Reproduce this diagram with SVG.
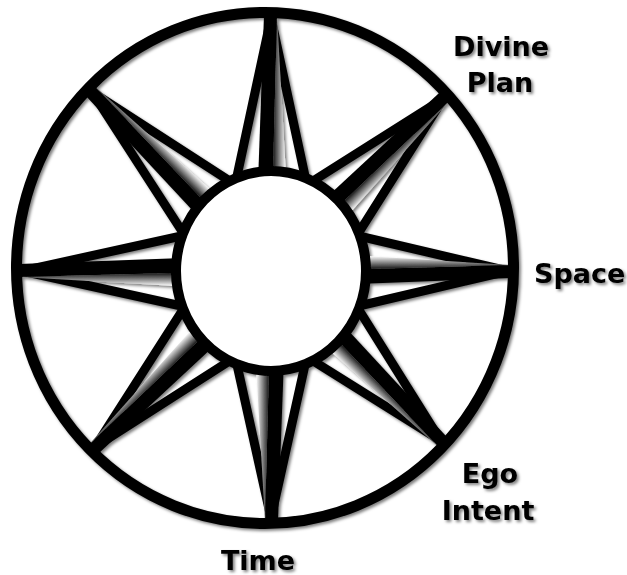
<svg xmlns="http://www.w3.org/2000/svg" width="627" height="575" viewBox="0 0 627 575">
<style>
.ln{stroke:#000;stroke-width:9;fill:none}
.bar{fill:#000}
.sh{fill:url(#fade)}
.ring{fill:none;stroke:#000;stroke-width:11}
.hub{fill:#fff;stroke:#000;stroke-width:10}
.lbl{font-family:"DejaVu Sans",Verdana,sans-serif;font-weight:bold;font-size:27px;fill:#000;text-anchor:middle}
</style>
<defs>
<filter id="ds" x="-5%" y="-5%" width="115%" height="115%">
<feDropShadow dx="2" dy="2" stdDeviation="1.5" flood-color="#000" flood-opacity="0.5"/>
</filter>
<linearGradient id="fade" gradientUnits="userSpaceOnUse" x1="1" y1="0" x2="15" y2="0">
<stop offset="0" stop-color="#000"/>
<stop offset="1" stop-color="#fff"/>
</linearGradient>
</defs>
<g filter="url(#ds)">
<g id="connectors">
<g id="spike-top" transform="translate(271 271) rotate(0)">
<path class="ln" d="M0,-253 L-41.5,-60 M0,-253 L41.5,-60"/>
<polygon class="bar" points="-7,-256 6,-256 1,-60 -14,-60"/>
<polygon class="sh" points="6,-256 1,-60 17,-60"/>
</g>
<g id="spike-top-right" transform="translate(271 271) rotate(45)">
<path class="ln" d="M0,-244 L-41.5,-60 M0,-244 L41.5,-60"/>
<polygon class="bar" points="-7,-247 6,-247 1,-60 -14,-60"/>
<polygon class="sh" points="6,-247 1,-60 17,-60"/>
</g>
<g id="spike-right" transform="translate(271 271) rotate(90) scale(-1 1)">
<path class="ln" d="M0,-237 L-41.5,-60 M0,-237 L41.5,-60"/>
<polygon class="bar" points="-7,-240 6,-240 1,-60 -14,-60"/>
<polygon class="sh" points="6,-240 1,-60 17,-60"/>
</g>
<g id="spike-bottom-right" transform="translate(271 271) rotate(135)">
<path class="ln" d="M0,-240 L-41.5,-60 M0,-240 L41.5,-60"/>
<polygon class="bar" points="-7,-243 6,-243 1,-60 -14,-60"/>
<polygon class="sh" points="6,-243 1,-60 17,-60"/>
</g>
<g id="spike-bottom" transform="translate(271 271) rotate(180)">
<path class="ln" d="M0,-247 L-41.5,-60 M0,-247 L41.5,-60"/>
<polygon class="bar" points="-7,-250 6,-250 1,-60 -14,-60"/>
<polygon class="sh" points="6,-250 1,-60 17,-60"/>
</g>
<g id="spike-bottom-left" transform="translate(271 271) rotate(225)">
<path class="ln" d="M0,-249 L-41.5,-60 M0,-249 L41.5,-60"/>
<polygon class="bar" points="-7,-252 6,-252 1,-60 -14,-60"/>
<polygon class="sh" points="6,-252 1,-60 17,-60"/>
</g>
<g id="spike-left" transform="translate(271 271) rotate(270) scale(-1 1)">
<path class="ln" d="M0,-249 L-41.5,-60 M0,-249 L41.5,-60"/>
<polygon class="bar" points="-7,-252 6,-252 1,-60 -14,-60"/>
<polygon class="sh" points="6,-252 1,-60 17,-60"/>
</g>
<g id="spike-top-left" transform="translate(271 271) rotate(315)">
<path class="ln" d="M0,-253 L-41.5,-60 M0,-253 L41.5,-60"/>
<polygon class="bar" points="-7,-256 6,-256 1,-60 -14,-60"/>
<polygon class="sh" points="6,-256 1,-60 17,-60"/>
</g>
</g>
<g id="outer-circle">
<ellipse class="ring" cx="265" cy="268" rx="248.5" ry="255.5"/>
</g>
<g id="inner-circle">
<ellipse class="hub" cx="271" cy="271" rx="95" ry="100"/>
</g>
<g id="label-divine-plan">
<text class="lbl" x="501" y="56">Divine</text>
<text class="lbl" x="500" y="92">Plan</text>
</g>
<g id="label-space">
<text class="lbl" x="534" y="283" style="text-anchor:start">Space</text>
</g>
<g id="label-ego-intent">
<text class="lbl" x="490" y="483">Ego</text>
<text class="lbl" x="488" y="520">Intent</text>
</g>
<g id="label-time">
<text class="lbl" x="258" y="570">Time</text>
</g>
</g>
</svg>
